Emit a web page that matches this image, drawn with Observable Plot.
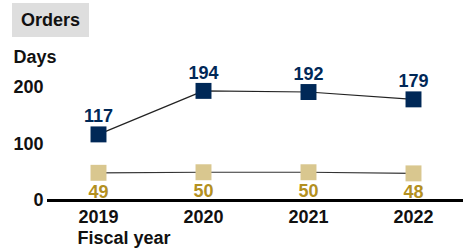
<!DOCTYPE html>
<html>
<head>
<meta charset="utf-8">
<script src="https://cdn.jsdelivr.net/npm/d3@7"></script>
<script src="https://cdn.jsdelivr.net/npm/@observablehq/plot@0.6"></script>
<style>
  html, body { margin: 0; padding: 0; background: #fff; }
  #wrap { position: relative; width: 463px; height: 251px; font-family: "Liberation Sans", Arial, sans-serif; }
  #title { position: absolute; left: 12px; top: 3px; width: 77px; height: 34px; background: #dedede;
           font-weight: bold; font-size: 18px; line-height: 34px; text-align: center; color: #111; z-index: 2; }
  #chart { position: absolute; left: 0; top: 0; }
</style>
</head>
<body>
<div id="wrap">
  <div id="title">Orders</div>
  <div id="chart"></div>
</div>
<script>
const years = ["2019", "2020", "2021", "2022"];
const seriesTop = [117, 194, 192, 179];
const seriesBottom = [49, 50, 50, 48];
const yTicks = [0, 100, 200];
const yLabel = "Days";
const xLabel = "Fiscal year";

const navy = "#002857";
const tanFill = "#d9c78f";
const gold = "#b3901f";

const topRows = years.map((y, i) => ({year: y, value: seriesTop[i]}));
const botRows = years.map((y, i) => ({year: y, value: seriesBottom[i]}));

const font = "'Liberation Sans', Arial, sans-serif";

const chart = Plot.plot({
  width: 463,
  height: 251,
  marginLeft: 47,
  marginRight: 0,
  marginTop: 87,
  marginBottom: 51,
  style: {fontFamily: font, fontSize: "18px", fontWeight: "bold", color: "#111", background: "transparent"},
  x: {type: "point", domain: years, padding: 0.47, label: null},
  y: {domain: [0, 200], label: null},
  marks: [
    Plot.axisY({ticks: yTicks, tickSize: 0, tickPadding: 4, label: null, fontSize: 18, fontWeight: "bold"}),
    Plot.axisX({tickSize: 0, tickPadding: 10, label: null, fontSize: 18, fontWeight: "bold"}),
    Plot.ruleY([0], {stroke: "#000", strokeWidth: 3}),
    Plot.line(botRows, {x: "year", y: "value", stroke: "#333", strokeWidth: 1.2}),
    Plot.line(topRows, {x: "year", y: "value", stroke: "#222", strokeWidth: 1.2}),
    Plot.dot(botRows, {x: "year", y: "value", symbol: "square", r: 9, fill: tanFill, stroke: "none"}),
    Plot.dot(topRows, {x: "year", y: "value", symbol: "square", r: 9, fill: navy, stroke: "none"}),
    Plot.text(topRows, {x: "year", y: "value", text: d => String(d.value), dy: -18, fill: navy, fontSize: 18, fontWeight: "bold"}),
    Plot.text(botRows, {x: "year", y: "value", text: d => String(d.value), dy: 19, fill: gold, fontSize: 18, fontWeight: "bold"}),
    Plot.text([yLabel], {frameAnchor: "top-left", textAnchor: "start", lineAnchor: "middle", dx: -34, dy: -30.5, fill: "#111", fontSize: 18, fontWeight: "bold"}),
    Plot.text([xLabel], {frameAnchor: "bottom-left", textAnchor: "start", lineAnchor: "middle", dx: 30, dy: 38, fill: "#111", fontSize: 18, fontWeight: "bold"})
  ]
});
document.getElementById("chart").appendChild(chart);
</script>
</body>
</html>
